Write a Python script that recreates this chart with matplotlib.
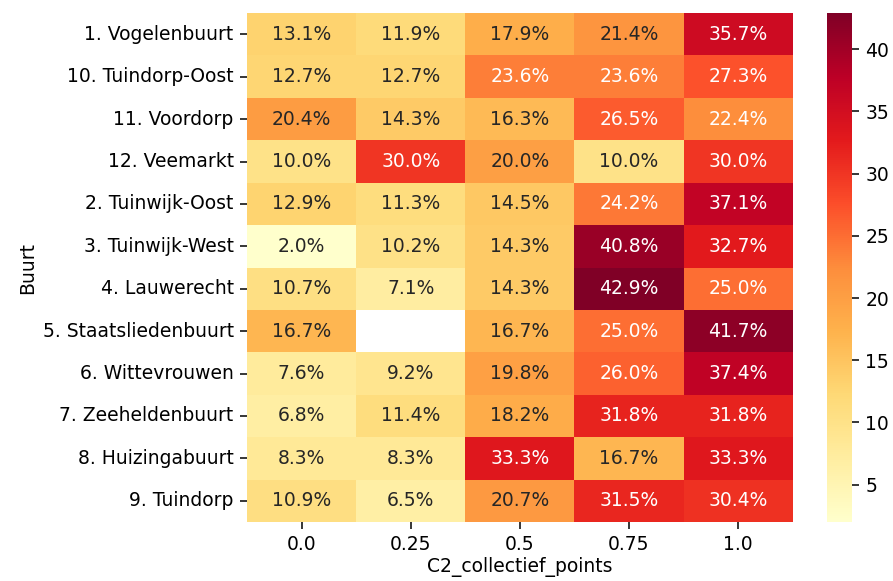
import matplotlib
matplotlib.use("Agg")
import matplotlib.pyplot as plt
import numpy as np
import seaborn as sns

buurten = ["1. Vogelenbuurt", "10. Tuindorp-Oost", "11. Voordorp", "12. Veemarkt",
           "2. Tuinwijk-Oost", "3. Tuinwijk-West", "4. Lauwerecht",
           "5. Staatsliedenbuurt", "6. Wittevrouwen", "7. Zeeheldenbuurt",
           "8. Huizingabuurt", "9. Tuindorp"]
punten = ["0.0", "0.25", "0.5", "0.75", "1.0"]

# percentages per buurt (rij) en punt (kolom); nan = geen waarde
pct = np.array([
    [13.1, 11.9, 17.9, 21.4, 35.7],
    [12.7, 12.7, 23.6, 23.6, 27.3],
    [20.4, 14.3, 16.3, 26.5, 22.4],
    [10.0, 30.0, 20.0, 10.0, 30.0],
    [12.9, 11.3, 14.5, 24.2, 37.1],
    [2.0, 10.2, 14.3, 40.8, 32.7],
    [10.7, 7.1, 14.3, 42.9, 25.0],
    [16.7, np.nan, 16.7, 25.0, 41.7],
    [7.6, 9.2, 19.8, 26.0, 37.4],
    [6.8, 11.4, 18.2, 31.8, 31.8],
    [8.3, 8.3, 33.3, 16.7, 33.3],
    [10.9, 6.5, 20.7, 31.5, 30.4],
])

labels = np.array([["" if np.isnan(v) else f"{v:.1f}%" for v in row] for row in pct])

fs = 13.5
plt.rcParams["font.family"] = ["DejaVu Sans"]
plt.rcParams["font.size"] = fs
plt.rcParams["xtick.major.size"] = 4.8
plt.rcParams["ytick.major.size"] = 4.8
plt.rcParams["xtick.major.width"] = 1.1
plt.rcParams["ytick.major.width"] = 1.1
plt.rcParams["xtick.major.pad"] = 4.8
plt.rcParams["ytick.major.pad"] = 4.8

fig = plt.figure(figsize=(8.93, 5.81), dpi=100)
ax = fig.add_axes([0.2766, 0.1015, 0.611, 0.876])
cax = fig.add_axes([0.926, 0.1015, 0.028, 0.876])

sns.heatmap(pct, annot=labels, fmt="", cmap="YlOrRd", ax=ax, cbar_ax=cax,
            xticklabels=punten, yticklabels=buurten, annot_kws={"fontsize": fs})

ax.set_xlabel("C2_collectief_points", fontsize=fs, labelpad=2)
ax.set_ylabel("Buurt", fontsize=fs)
ax.tick_params(axis="both", labelsize=fs)
ax.set_yticklabels(buurten, rotation=0)
cax.tick_params(labelsize=fs)

fig.savefig("out.png", dpi=100)
